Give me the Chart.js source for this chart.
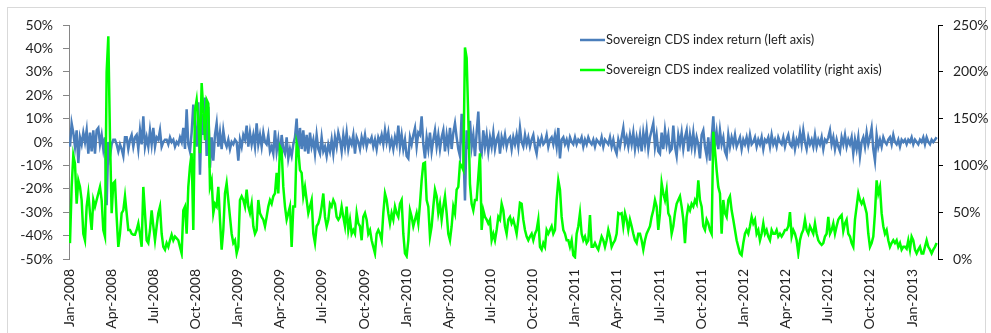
<!DOCTYPE html>
<html>
<head>
<meta charset="utf-8">
<title>Sovereign CDS index</title>
<script src="https://cdn.jsdelivr.net/npm/chart.js@4.4.1/dist/chart.umd.min.js"></script>
<style>
  html, body { margin: 0; padding: 0; background: #ffffff; }
  #wrap { position: relative; width: 991px; height: 333px; }
</style>
</head>
<body>
<div id="wrap"><canvas id="chart" width="991" height="333"></canvas></div>
<script>
// Series labels
const seriesNames = [
  'Sovereign CDS index return (left axis)',
  'Sovereign CDS index realized volatility (right axis)'
];

// Quarterly date labels on the horizontal axis (one every 3 months from Jan-2008)
const quarterLabels = [
  'Jan-2008', 'Apr-2008', 'Jul-2008', 'Oct-2008',
  'Jan-2009', 'Apr-2009', 'Jul-2009', 'Oct-2009',
  'Jan-2010', 'Apr-2010', 'Jul-2010', 'Oct-2010',
  'Jan-2011', 'Apr-2011', 'Jul-2011', 'Oct-2011',
  'Jan-2012', 'Apr-2012', 'Jul-2012', 'Oct-2012',
  'Jan-2013'
];

// Observation dates: months elapsed since 1 Jan 2008, sampled every ~2.6 trading days
const firstObsMonth = 0.07;
const obsStepMonths = 0.11862;
const lastAxisMonth = 61.85;

// Index return, % (left axis)
const indexReturn = [
  -2, 8, 4, -2, 5, -9, 2, -1, 4, 0,
  5, -5, 4, -4, 5, -5, 5, 6, -1, 3,
  -3, 2, -27, 0, -6, -1, 1, 1, -1, -4,
  -1, -3, -6, 2, 2, -3, 1, 3, -2, 2,
  3, -3, 5, -1, 11, -2, 2, -2, 5, -1,
  6, -2, 2, 1, 5, -2, 0, 1, 1, -1,
  2, 0, 1, -2, 0, -1, 2, 0, 6, -3,
  14, -1, -4, 4, 16, 6, -2, 17, -14, 12,
  3, 19, -6, 15, -11, 2, -8, 3, 8, -2,
  4, -3, 5, 0, -2, 1, -3, 0, -1, 1,
  0, -8, 1, -2, 3, 1, 7, -2, 4, -1,
  3, -2, 8, -1, 3, -2, 4, 0, -1, 3,
  -4, -2, -5, 5, -4, 1, -6, 3, -3, -5,
  2, -7, -3, -6, -1, 2, 10, -5, 6, -3,
  5, -4, 3, -5, 4, -2, 1, -5, 3, -3,
  -5, 2, -4, -2, -6, -1, -4, 1, -5, 2,
  -2, 4, 1,
  -4, 3, -2, 4, -3, 1, -1, 3, -5, 2,
  0, -3, 2, -1, 3, -2, 1, 0, 2, -2,
  1, -3, 2, 0, 3, -1, 5, 0, 4, -2,
  1, -3, 2, -1, 7, -2, 3, -3, 1, -6,
  -7, 2, -1, 3, 6, -2, 4, 3, 11, -1,
  -7, 2, -3, 4, -4, 1, 5, -2, 3, -3,
  2, 5, -4, 3, -2, 6, -3, 4, 8, 2,
  -3, -6, 12, -2, -25, 5, -3, 9, -2, 3,
  -6, 4, 13, -3, -5, 5, -2, 3, -4, 2,
  -2, 4, -3, 1, 3, -5, 2, -1, 3, -2,
  1, 2, -3, 2, -1, 3, -2, 6, 0, -2,
  3, -1, 2, -2, 1, 3, -2, -5, 1, -1,
  2, -1, 0, 3, -2, 1, 2, -1, 3, -2,
  6, -7, 1, 2, -1, 1, -2, 2, 0, -1,
  2, -1, 1, 0, 2, -2, 1, -1, 2, 0,
  -1, 1, -2, 1, 0, -1, 2, -2, 1, 0,
  -1, 2, -2, 1, -3, -5, 1, -2, 2, 6,
  -1, 2, -2, 3, -1, 4, -3, 2, -2, 3,
  -4, 4, -1, 5, -3, 2, 5, 8, -2, 3,
  -4, -5, 4, -3, 5, -1, 3, -4,
  -3, 7, -2, -6, 3, -1, 4, -3, 2, 5,
  -4, 3, -2, 4, -3, 2, -1, -7, 3, 5,
  -2, -6, 2, -8, 1, 11, -2, 4, -3, 5,
  -1, 2, -4, -6, 3, -2, 2, -1, 3, -2,
  0, 2, -3, 1, -1, 2, -2, 3, -1, 0,
  2, -2, 1, -1, 2, -3, 1, 0, 2, -2,
  3, -1, 1, -2, 2, 0, -1, 2, -2, 1,
  3, -1, -2, 2, -3, 1, -1, 4, -1, 5,
  0, -3, 2, -1, 1, -2, 3, -2, 1, -1,
  2, -3, 1, 0, 2, 5, -1, 2, -3, 1,
  -2, -4, 2, -1, 3, -2, 1, -1, 2, -5,
  1, -3, 2, -6, 0, 2, -2, 4, -1, 2,
  6, -3, -8, 3, -2, 1, -2, 2, 0, -1,
  1, 2, -1, 3, 0, -1, 1, -2, 1, 0,
  1, -1, 1, 0, 2, -1, 1, 0, -1, 1,
  0, 2, -1, 2, 0, -1, 1, 0, 1, 2
];

// Realized volatility, % (right axis)
const realizedVol = [
  17, 77, 111, 102, 59, 84, 77, 63, 27, 20,
  56, 70, 49, 31, 63, 56, 63, 70, 77, 63,
  31, 24, 200, 238, 130, 49, 81, 83, 45, 13,
  27, 49, 52, 67, 49, 31, 31, 27, 26, 26,
  31, 38, 27, 13, 77, 49, 20, 17, 31, 52,
  35, 20, 35, 49, 56, 27, 13, 10, 17, 13,
  20, 26, 20, 24, 22, 20, 13, 6, 52, 56,
  27, 77, 99, 113, 31, 159, 170, 148, 113, 188,
  159, 127, 170, 166, 77, 84, 49, 59, 56, 77,
  42, 10, 31, 70, 81, 63, 45, 27, 17, 20,
  6, 13, 63, 67, 63, 56, 74, 56, 49, 59,
  35, 27, 31, 63, 49, 45, 42, 35, 45, 56,
  63, 59, 67, 70, 92, 70, 120, 116, 77, 56,
  42, 49, 56, 13, 56, 56, 124, 116, 95, 92,
  67, 77, 63, 49, 56, 63, 27, 17, 35, 38,
  45, 56, 70, 45, 35, 42, 59, 56, 63, 59,
  45, 42, 45,
  56, 45, 35, 56, 31, 42, 27, 31, 27, 49,
  38, 35, 20, 45, 49, 42, 27, 31, 20, 13,
  6, 27, 31, 27, 20, 49, 70, 63, 49, 38,
  49, 42, 56, 49, 45, 59, 63, 27, 6, 3,
  20, 52, 45, 35, 42, 49, 38, 59, 84, 102,
  103, 63, 56, 24, 35, 56, 74, 67, 49, 59,
  42, 56, 67, 49, 27, 20, 35, 56, 49, 74,
  77, 102, 99, 95, 226, 215, 150, 80, 59, 52,
  63, 63, 88, 113, 31, 52, 45, 42, 38, 42,
  20, 27, 20, 31, 45, 42, 59, 52, 35, 27,
  42, 45, 38, 42, 35, 27, 42, 60, 59, 42,
  31, 24, 20, 24, 27, 20, 27, 31, 42, 13,
  10, 17, 13, 31, 27, 31, 35, 27, 31, 63,
  84, 74, 45, 31, 27, 20, 20, 13, 20, 4,
  2, 27, 35, 49, 27, 20, 24, 17, 20, 47,
  13, 13, 17, 13, 10, 17, 24, 20, 13, 20,
  31, 24, 13, 17, 20, 27, 49, 48, 49, 35,
  49, 42, 31, 42, 35, 27, 20, 17, 27, 27,
  20, 10, 20, 27, 31, 35, 45, 52, 63, 56,
  31, 49, 81, 70, 63, 74, 49, 45,
  27, 35, 49, 59, 63, 67, 56, 42, 17, 45,
  56, 52, 59, 56, 63, 59, 84, 63, 56, 35,
  31, 42, 38, 31, 27, 136, 116, 95, 77, 70,
  27, 63, 49, 45, 63, 67, 52, 42, 31, 20,
  13, 6, 4, 17, 27, 31, 27, 35, 45, 38,
  42, 27, 31, 20, 27, 38, 27, 31, 24, 20,
  31, 27, 27, 31, 24, 27, 24, 27, 31, 31,
  35, 50, 24, 31, 27, 20, 6, 20, 27, 31,
  42, 31, 27, 35, 31, 27, 38, 27, 20, 17,
  15, 17, 24, 27, 45, 27, 31, 38, 27, 35,
  42, 45, 47, 30, 38, 42, 27, 24, 17, 13,
  42, 56, 70, 63, 59, 63, 56, 49, 27, 13,
  17, 24, 49, 84, 70, 77, 49, 35, 27, 31,
  20, 13, 17, 20, 17, 20, 13, 17, 10, 13,
  13, 11, 20, 10, 24, 20, 10, 6, 10, 13,
  6, 6, 13, 20, 13, 10, 6, 10, 13, 17
];

const leftTickValues = [-50, -40, -30, -20, -10, 0, 10, 20, 30, 40, 50];
const rightTickValues = [0, 50, 100, 150, 200, 250];

function toPoints(values) {
  return values.map((v, i) => ({ x: firstObsMonth + obsStepMonths * i, y: v }));
}

const FONT = "Lato, 'Liberation Sans', 'DejaVu Sans', sans-serif";
const TEXT = '#1f1f1f';
const BLUE = '#4a7ebb';
const GREEN = '#00ff00';

Chart.defaults.font.family = FONT;
Chart.defaults.color = TEXT;

// Light frame round the whole figure
const framePlugin = {
  id: 'frame',
  beforeDraw(chart) {
    const ctx = chart.ctx;
    ctx.save();
    ctx.fillStyle = '#ffffff';
    ctx.fillRect(0, 0, chart.width, chart.height);
    ctx.strokeStyle = '#d9d9d9';
    ctx.lineWidth = 1;
    ctx.strokeRect(7.5, 7.5, 978, 400);
    ctx.restore();
  }
};

// Series key drawn inside the plot, upper right
const keyPlugin = {
  id: 'seriesKey',
  afterDraw(chart) {
    const ctx = chart.ctx;
    const rows = [40, 70];
    ctx.save();
    chart.data.datasets.forEach((ds, i) => {
      const y = rows[i];
      ctx.strokeStyle = ds.borderColor;
      ctx.lineWidth = 2.5;
      ctx.beginPath();
      ctx.moveTo(580, y);
      ctx.lineTo(605, y);
      ctx.stroke();
      ctx.fillStyle = TEXT;
      ctx.font = '12.8px ' + FONT;
      ctx.textAlign = 'left';
      ctx.textBaseline = 'middle';
      ctx.fillText(ds.label, 606, y);
    });
    ctx.restore();
  }
};

new Chart(document.getElementById('chart'), {
  type: 'line',
  data: {
    datasets: [
      {
        label: seriesNames[0],
        data: toPoints(indexReturn),
        yAxisID: 'yLeft',
        borderColor: BLUE,
        backgroundColor: BLUE,
        borderWidth: 2.5,
        pointRadius: 0,
        tension: 0,
        order: 1
      },
      {
        label: seriesNames[1],
        data: toPoints(realizedVol),
        yAxisID: 'yRight',
        borderColor: GREEN,
        backgroundColor: GREEN,
        borderWidth: 2.5,
        pointRadius: 0,
        tension: 0,
        order: 0
      }
    ]
  },
  options: {
    responsive: false,
    animation: false,
    devicePixelRatio: 1,
    layout: { padding: { top: 25, left: 0, right: 0, bottom: 0 } },
    plugins: {
      legend: { display: false },
      tooltip: { enabled: false }
    },
    scales: {
      x: {
        type: 'linear',
        min: 0,
        max: lastAxisMonth,
        grid: { display: false, drawTicks: false },
        border: { display: false },
        ticks: {
          stepSize: 3,
          autoSkip: false,
          includeBounds: false,
          minRotation: 90,
          maxRotation: 90,
          padding: 10,
          font: { size: 14 },
          color: TEXT,
          callback: (v) => quarterLabels[Math.round(v / 3)] || ''
        },
        afterFit: (s) => { s.height = 74; }
      },
      yLeft: {
        position: 'left',
        min: leftTickValues[0],
        max: leftTickValues[leftTickValues.length - 1],
        afterBuildTicks: (s) => { s.ticks = leftTickValues.map(v => ({ value: v })); },
        grid: {
          color: (c) => (c.tick && c.tick.value === 0) ? '#868686' : 'rgba(0,0,0,0)',
          tickColor: '#868686',
          tickLength: 6,
          lineWidth: 1
        },
        border: { display: true, color: '#868686', width: 1 },
        ticks: {
          padding: 10,
          font: { size: 14 },
          color: TEXT,
          callback: (v) => v + '%'
        },
        afterFit: (s) => { s.width = 69; }
      },
      yRight: {
        position: 'right',
        min: rightTickValues[0],
        max: rightTickValues[rightTickValues.length - 1],
        afterBuildTicks: (s) => { s.ticks = rightTickValues.map(v => ({ value: v })); },
        grid: { drawOnChartArea: false, tickColor: '#000000', tickLength: 5 },
        border: { display: true, color: '#000000', width: 1 },
        ticks: {
          padding: 10,
          font: { size: 14 },
          color: TEXT,
          callback: (v) => v + '%'
        },
        afterFit: (s) => { s.width = 53; }
      }
    }
  },
  plugins: [framePlugin, keyPlugin]
});
</script>
</body>
</html>
